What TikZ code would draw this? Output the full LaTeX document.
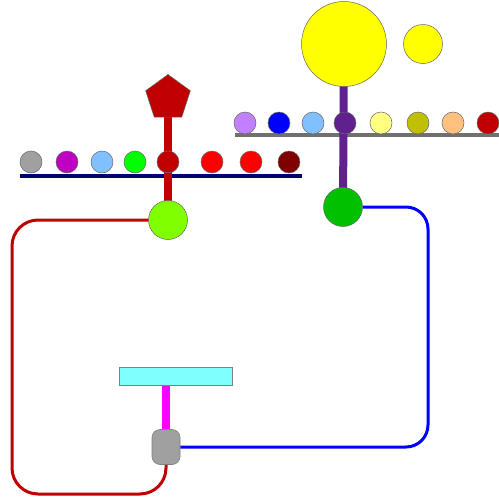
\documentclass[tikz,border=0pt]{standalone}
\usetikzlibrary{shapes.geometric}
\pgfdeclarelayer{bars}
\pgfdeclarelayer{stems}
\pgfsetlayers{bars,stems,main}
\definecolor{cdkred}{HTML}{C00000}
\definecolor{cpurple}{HTML}{602090}
\definecolor{cnavy}{HTML}{000070}
\definecolor{cbar}{HTML}{707070}
\definecolor{cgray}{HTML}{A0A0A0}
\definecolor{cmag}{HTML}{C000C0}
\definecolor{cltblue}{HTML}{80C0FF}
\definecolor{cgreen}{HTML}{00FF00}
\definecolor{cred}{HTML}{FF0000}
\definecolor{cmaroon}{HTML}{800000}
\definecolor{clav}{HTML}{C080FF}
\definecolor{cblue}{HTML}{0000FF}
\definecolor{cltyel}{HTML}{FFFF80}
\definecolor{colive}{HTML}{C0C000}
\definecolor{cpeach}{HTML}{FFC080}
\definecolor{cyel}{HTML}{FFFF00}
\definecolor{clgreen}{HTML}{80FF00}
\definecolor{cdgreen}{HTML}{00C000}
\definecolor{ccyan}{HTML}{80FFFF}
\definecolor{cmagenta}{HTML}{FF00FF}
\tikzset{
  ball/.style={circle, draw=black!60, line width=0.5pt, inner sep=0pt, minimum size=22pt, fill=#1},
  bigball/.style={circle, draw=black!60, line width=0.5pt, inner sep=0pt, fill=#1},
  barline/.style={line width=4pt, draw=#1},
  stem/.style={line width=8pt, draw=#1},
  wire/.style={line width=3pt, draw=#1, rounded corners=26pt},
}
\begin{document}
\begin{tikzpicture}[x=1pt,y=-1pt]
\useasboundingbox (0,0) rectangle (499,499);
% left row
\node[ball=cgray] (l1) at (31,162) {};
\node[ball=cmag] (l2) at (67,162) {};
\node[ball=cltblue] (l3) at (102,162) {};
\node[ball=cgreen] (l4) at (135,162) {};
\node[ball=cdkred] (l5) at (168,162) {};
\node[ball=cred] (l6) at (212,162) {};
\node[ball=cred] (l7) at (251,162) {};
\node[ball=cmaroon] (l8) at (289,162) {};
% top row
\node[ball=clav] (t1) at (245,123) {};
\node[ball=cblue] (t2) at (279,123) {};
\node[ball=cltblue] (t3) at (313,123) {};
\node[ball=cpurple] (t4) at (345,123) {};
\node[ball=cltyel] (t5) at (381,123) {};
\node[ball=colive] (t6) at (418,123) {};
\node[ball=cpeach] (t7) at (453,123) {};
\node[ball=cdkred] (t8) at (488,123) {};
% big shapes
\node[regular polygon, regular polygon sides=5, inner sep=0pt, minimum size=47pt, fill=cdkred, draw=black!60, line width=0.5pt] (pent) at (168,98) {};
\node[bigball=clgreen, minimum size=39pt] (lg) at (168,220) {};
\node[bigball=cyel, minimum size=85pt] (sun) at (344,44) {};
\node[bigball=cyel, minimum size=39pt] (moon) at (423,44) {};
\node[bigball=cdgreen, minimum size=39pt] (dg) at (343,207) {};
\node[rectangle, fill=ccyan, draw=black!50, line width=0.6pt, minimum width=113pt, minimum height=18pt, inner sep=0pt] (box) at (175.5,376) {};
\node[rectangle, rounded corners=8pt, fill=cgray, draw=black!50, line width=0.6pt, minimum width=28pt, minimum height=35pt, inner sep=0pt] (gbox) at (166,447) {};
% bars
\coordinate (lb1) at (20,176);
\coordinate (lb2) at (302,176);
\coordinate (tb1) at (235,135);
\coordinate (tb2) at (499,135);
\begin{pgfonlayer}{bars}
\draw[barline=cnavy] (lb1) -- (lb2);
\draw[barline=cbar] (tb1) -- (tb2);
\end{pgfonlayer}
\begin{pgfonlayer}{stems}
\draw[stem=cdkred] (pent.center) -- (lg.center);
\draw[stem=cpurple] (sun.center) -- (dg.center);
\draw[stem=cmagenta] (gbox.center) -- (gbox.center |- box.center);
\end{pgfonlayer}
% wires
\draw[wire=cdkred] (lg.west) -| (12,494) -| (gbox.south);
\draw[wire=cblue, rounded corners=22pt] (dg.east) -| (428,447) -- (gbox.east);
\end{tikzpicture}
\end{document}
